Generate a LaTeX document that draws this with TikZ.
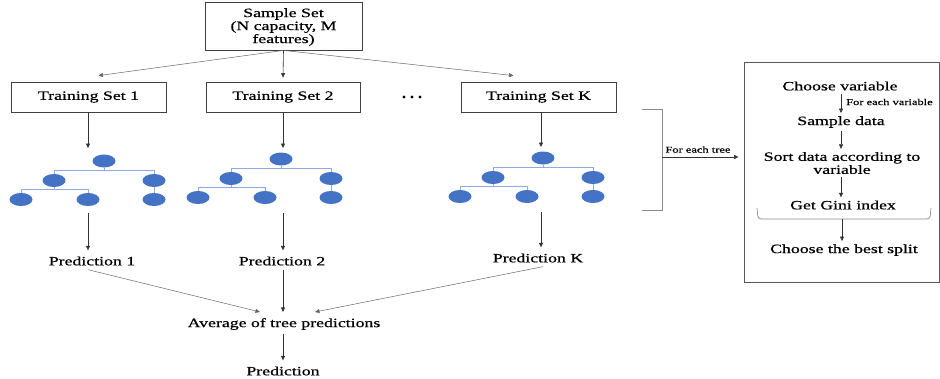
\documentclass[tikz,border=0pt]{standalone}
\usepackage{fontspec}
\setmainfont[FakeStretch=1.4,FakeBold=0.6]{Liberation Serif}
\usetikzlibrary{arrows.meta,shapes.geometric}
\newcommand\mytree[3]{%
  \node[leafnode] (#1r) at (#2,#3) {};
  \node[leafnode] (#1a) at (#2-50,#3+19.5) {};
  \node[leafnode] (#1b) at (#2+50,#3+19.5) {};
  \node[leafnode] (#1c) at (#2-83,#3+38.5) {};
  \node[leafnode] (#1d) at (#2-16,#3+38.5) {};
  \node[leafnode] (#1e) at (#2+50,#3+38.5) {};
  \draw[treeline] (#1r.south) -- (#1r.south |- 0,#3+9.5);
  \draw[treeline] (#1a.north) -- (#1a.north |- 0,#3+9.5) -- (#1b.north |- 0,#3+9.5) -- (#1b.north);
  \draw[treeline] (#1a.south) -- (#1a.south |- 0,#3+28.5);
  \draw[treeline] (#1c.north) -- (#1c.north |- 0,#3+28.5) -- (#1d.north |- 0,#3+28.5) -- (#1d.north);
  \draw[treeline] (#1b.south) -- (#1e.north);
}
\begin{document}
\begin{tikzpicture}[x=1pt,y=-1pt,
  every node/.style={font=\fontsize{12.7}{13}\selectfont, inner sep=0pt, align=center},
  smalltext/.style={font=\fontsize{8.9}{10}\selectfont},
  boxnode/.style={draw=black!75, line width=0.8pt},
  arr/.style={draw=black!80, line width=0.6pt, -{Triangle[length=4.5pt,width=4pt]}},
  thinarr/.style={draw=black!60, line width=0.5pt, -{Triangle[length=4.5pt,width=4pt]}},
  leafnode/.style={ellipse, fill=leafblue, minimum width=23pt, minimum height=13pt},
  treeline/.style={draw=lineblue, line width=0.8pt},
  bracketline/.style={draw=black!45, line width=0.7pt}
]
\definecolor{leafblue}{HTML}{4472C4}
\definecolor{lineblue}{HTML}{8FAADC}
\useasboundingbox (0,0) rectangle (940,378);

% sample set
\node[boxnode, minimum width=157pt, minimum height=48pt] (ss) at (283.5,26) {};
\node (sstext) at (283.5,27) {Sample Set\\(N capacity, M\\features)};

% training sets
\node[boxnode, minimum width=155pt, minimum height=30pt] (ts1) at (88.5,97) {Training Set 1};
\node[boxnode, minimum width=154pt, minimum height=30pt] (ts2) at (283,97) {Training Set 2};
\node[boxnode, minimum width=155pt, minimum height=30pt] (tsk) at (538.5,97) {Training Set K};

\fill[black] (404,97) circle (1.6) (412,97) circle (1.6) (420,97) circle (1.6);

\draw[thinarr] (ss.south) -- ([xshift=10pt,yshift=6pt]ts1.north);
\draw[arr] (ss.south) -- ([yshift=4pt]ts2.north);
\draw[thinarr] (ss.south) -- ([xshift=-25pt,yshift=6pt]tsk.north);

% trees
\mytree{ta}{104}{161}
\mytree{tb}{281}{159}
\mytree{tk}{543}{158}

\coordinate (ta_in) at (88,148);
\coordinate (tb_in) at (283,148);
\coordinate (tk_in) at (541,147);
\draw[arr] (ts1.south -| ta_in) -- (ta_in);
\draw[arr] (ts2.south -| tb_in) -- (tb_in);
\draw[arr] (tsk.south -| tk_in) -- (tk_in);

\coordinate (ta_out) at (88,213);
\coordinate (tb_out) at (283,213);
\coordinate (tk_out) at (541,212);

% predictions
\node (p1) at (92,261) {Prediction 1};
\node (p2) at (282,261) {Prediction 2};
\node (pk) at (538,258) {Prediction K};
\draw[arr] (ta_out) -- ([yshift=6pt]p1.north -| ta_out);
\draw[arr] (tb_out) -- ([yshift=6pt]p2.north -| tb_out);
\draw[arr] (tk_out) -- ([yshift=6pt]pk.north -| tk_out);

\node (avg) at (284,324) {Average of tree predictions};
\node (pred) at (283,371) {Prediction};

\draw[thinarr] ([xshift=-4pt,yshift=-4pt]p1.south) -- ([xshift=-24pt,yshift=6pt]avg.north);
\draw[arr] ([yshift=-4pt]p2.south -| tb_out) -- ([yshift=6pt]avg.north -| tb_out);
\draw[thinarr] ([xshift=5pt,yshift=-4pt]pk.south) -- ([xshift=31pt,yshift=6pt]avg.north);
\draw[arr] ([yshift=-4pt]avg.south -| tb_out) -- ([yshift=6pt]pred.north -| tb_out);

% bracket and for each tree
\draw[bracketline] (642,109) -- (662,109) -- (662,210) -- (642,210);
\coordinate (brk) at (662,157);

% right box
\node[draw=black!65, line width=1pt, minimum width=195pt, minimum height=220pt] (rb) at (841.5,172) {};
\draw[arr] (brk) -- ([xshift=-5pt]rb.west |- brk) node[pos=0.47, above=4pt, smalltext] (fet) {For each tree};

\coordinate (rx) at (841,0);
\node (cv) at (840,86) {Choose variable};
\node (sd) at (841,122) {Sample data};
\node (sort) at (842,163) {Sort data according to\\variable};
\node (gini) at (843,205) {Get Gini index};
\node (best) at (844,250) {Choose the best split};
\node[smalltext, anchor=west] (fev) at (846,102) {For each variable};

\draw[arr] ([yshift=-3pt]cv.south -| rx) -- ([yshift=3pt]sd.north -| rx);
\draw[arr] ([yshift=-3pt]sd.south -| rx) -- ([yshift=3pt]sort.north -| rx);
\draw[arr] ([yshift=-3pt]sort.south -| rx) -- ([yshift=3pt]gini.north -| rx);
\draw[bracketline, rounded corners=3pt] (757,208) -- (758,219) -- (930,219) -- (931,208);
\coordinate (gb) at (842,219);
\draw[arr] (gb) -- ([yshift=3pt]best.north -| gb);
\end{tikzpicture}
\end{document}
